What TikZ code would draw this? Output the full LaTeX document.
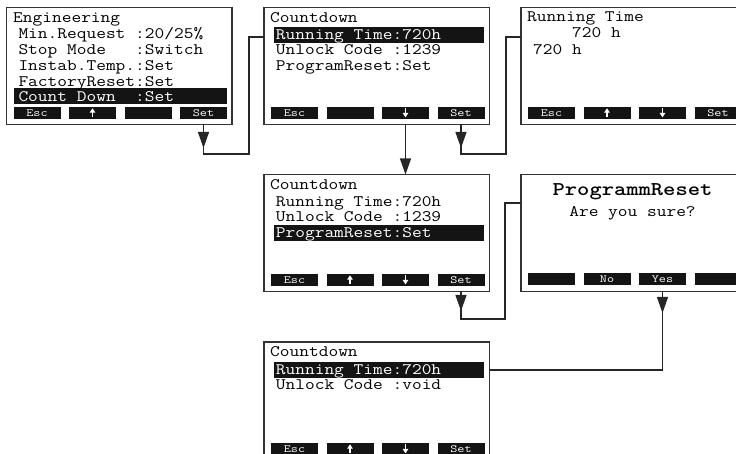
\documentclass[tikz,border=0pt]{standalone}
\usepackage{graphicx}
\usetikzlibrary{arrows.meta}

% display fonts: typewriter, slightly widened
\newcommand\lcd[1]{\scalebox{1.18}[1]{\fontsize{16}{16}\selectfont\ttfamily #1}}
\newcommand\lcdbtn[1]{\scalebox{1.25}[1]{\fontsize{11}{11}\selectfont\ttfamily #1}}
\newcommand\lcdtitle[1]{\scalebox{1.2}[1]{\fontsize{19.5}{19.5}\selectfont\ttfamily\bfseries #1}}

% a row of four soft keys under a display
\newcommand\keyrow[7]{%
  \node[softkey] (#1a) at ({#2+7},#3) {#4};
  \node[softkey] (#1b) at ({#2+62.5},#3) {#5};
  \node[softkey] (#1c) at ({#2+118},#3) {#6};
  \node[softkey] (#1d) at ({#2+173.5},#3) {#7};}
\newcommand\uparr[1]{\draw[keyarrow] ([yshift=1.6pt]#1.south) -- ([yshift=-1.2pt]#1.north);}
\newcommand\downarr[1]{\draw[keyarrow] ([yshift=-1.2pt]#1.north) -- ([yshift=1.6pt]#1.south);}

\tikzset{
  screen/.style={draw=black!80, line width=1.1pt, fill=white, minimum width=225.5pt,
    minimum height=117pt, anchor=north west, inner sep=0pt, outer sep=0pt},
  selbar/.style={fill=black!92, minimum width=210pt, minimum height=16pt,
    anchor=north west, inner sep=0pt, outer sep=0pt},
  softkey/.style={fill=black!92, minimum width=47pt, minimum height=12pt, anchor=north west,
    inner sep=0pt, outer sep=0pt, text=white, text height=6.3pt, text depth=0pt},
  row/.style={anchor=base west, inner sep=0pt},
  keyarrow/.style={draw=white, line width=1.3pt, -{Triangle[width=5.5pt,length=4.5pt]}},
  wire/.style={draw=black!85, line width=1.1pt},
  tipwire/.style={wire, -{Triangle[width=11pt,length=16pt]}}
}

\begin{document}
\begin{tikzpicture}[x=1pt,y=-1pt]
\useasboundingbox (0,0) rectangle (736,454);
\clip (0,0) rectangle (736,454);

% ---- Engineering menu
\node[screen] (eng) at (6.5,7.5) {};
\node[selbar, minimum width=213pt] (engsel) at (14,88.5) {};
\node[row] at (13,23) {\lcd{Engineering}};
\node[row] at (18.3,38.8) {\lcd{Min.Request :20/25\%}};
\node[row] at (18.3,54.6) {\lcd{Stop Mode~~~:Switch}};
\node[row] at (18.3,70.4) {\lcd{Instab.Temp.:Set}};
\node[row] at (18.3,86.2) {\lcd{FactoryReset:Set}};
\node[row, text=white] at (18.3,102) {\lcd{Count Down~~:Set}};
\keyrow{ek}{6.5}{107}{\lcdbtn{Esc}}{}{}{\lcdbtn{Set}}
\uparr{ekb}

% ---- Countdown menu, first line selected
\node[screen] (cd1) at (264,7.5) {};
\node[selbar] (cd1sel) at (274,27) {};
\node[row] at (270,22.5) {\lcd{Countdown}};
\node[row, text=white] at (275.7,39.5) {\lcd{Running Time:720h}};
\node[row] at (275.7,55) {\lcd{Unlock Code :1239}};
\node[row] at (275.7,70.5) {\lcd{ProgramReset:Set}};
\keyrow{ck}{264}{107}{\lcdbtn{Esc}}{}{}{\lcdbtn{Set}}
\downarr{ckc}

% ---- Running time display
\node[screen] (rt) at (521,7.5) {};
\node[row] at (527,22) {\lcd{Running Time}};
\node[row] at (572,37.5) {\lcd{720 h}};
\node[row] at (533,55) {\lcd{720 h}};
\keyrow{rk}{521}{107}{\lcdbtn{Esc}}{}{}{\lcdbtn{Set}}
\uparr{rkb}
\downarr{rkc}

% ---- Countdown menu, program reset selected
\node[screen] (cd2) at (264,174.5) {};
\node[selbar] (cd2sel) at (274,225) {};
\node[row] at (270,189.3) {\lcd{Countdown}};
\node[row] at (275.7,206.5) {\lcd{Running Time:720h}};
\node[row] at (275.7,222) {\lcd{Unlock Code :1239}};
\node[row, text=white] at (275.7,237.5) {\lcd{ProgramReset:Set}};
\keyrow{mk}{264}{274}{\lcdbtn{Esc}}{}{}{\lcdbtn{Set}}
\uparr{mkb}
\downarr{mkc}

% ---- Confirmation
\node[screen] (rst) at (521,174.5) {};
\node[anchor=base, inner sep=0pt] at (632.5,196) {\lcdtitle{ProgrammReset}};
\node[anchor=base, inner sep=0pt] at (632.5,217) {\lcd{Are you sure?}};
\keyrow{pk}{521}{273.5}{}{\lcdbtn{No}}{\lcdbtn{Yes}}{}

% ---- Countdown menu after reset
\node[screen] (cd3) at (264,342) {};
\node[selbar] (cd3sel) at (274,362) {};
\node[row] at (270,356.7) {\lcd{Countdown}};
\node[row, text=white] at (275.7,374) {\lcd{Running Time:720h}};
\node[row] at (275.7,389.5) {\lcd{Unlock Code :void}};
\keyrow{bk}{264}{443}{\lcdbtn{Esc}}{}{}{\lcdbtn{Set}}
\uparr{bkb}
\downarr{bkc}

% ---- connectors
\coordinate (c1b) at (249,154);
\coordinate (c1t) at (249,37);
\draw[wire] (ekd |- eng.south) |- (c1b) -- (c1t) -- (c1t -| cd1.west);
\draw[tipwire] (ekd |- eng.south) -- (ekd |- 0,148);

\coordinate (c2b) at (506,154);
\coordinate (c2t) at (506,37);
\draw[wire] (ckd |- cd1.south) |- (c2b) -- (c2t) -- (c2t -| rt.west);
\draw[tipwire] (ckd |- cd1.south) -- (ckd |- 0,148);

\draw[tipwire] (ckc |- cd1.south) -- (ckc |- cd2.north);

\coordinate (c4b) at (505,319);
\coordinate (c4t) at (505,203);
\draw[wire] (mkd |- cd2.south) |- (c4b) -- (c4t) -- (c4t -| rst.west);
\draw[tipwire] (mkd |- cd2.south) -- (mkd |- 0,311);

\draw[wire] (pkc |- rst.south) |- (cd3sel -| cd3.east);
\draw[tipwire] (pkc |- rst.south) -- (pkc |- 0,313);
\end{tikzpicture}
\end{document}
